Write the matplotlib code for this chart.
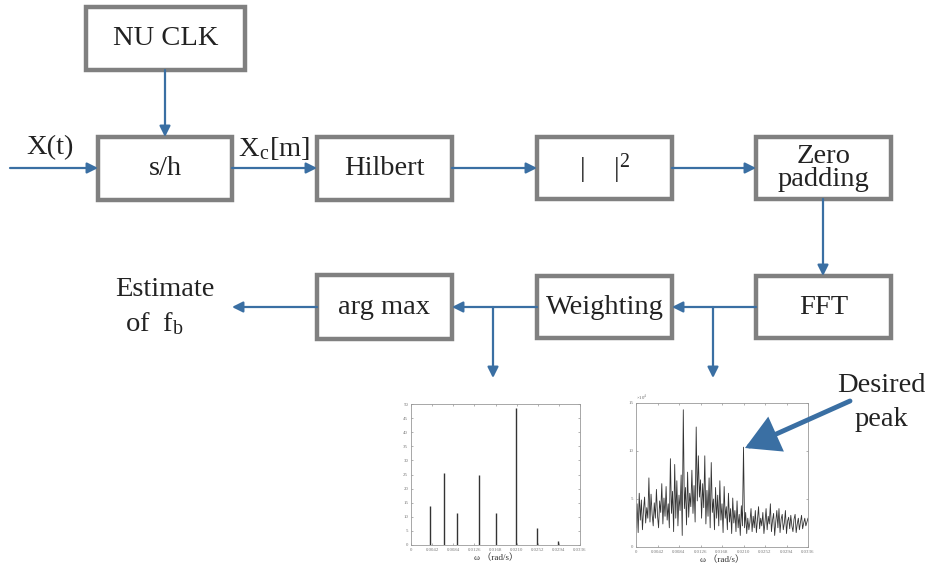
import numpy as np
import matplotlib.pyplot as plt
from matplotlib.patches import Rectangle

plt.rcParams['font.family'] = ['Liberation Serif', 'Noto Sans CJK SC', 'DejaVu Sans']
plt.rcParams['mathtext.fontset'] = 'stix'

# block diagram: label, (x0, y0, x1, y1) in pixel space
blocks = {
    "NU CLK": (86, 7, 245, 70),
    "s/h": (98, 137, 232, 200),
    "Hilbert": (317, 137, 452, 200),
    "|    |$^\\mathregular{2}$": (537, 137, 672, 199),
    "Zero\npadding": (756, 137, 891, 199),
    "FFT": (756, 276, 891, 338),
    "Weighting": (537, 276, 672, 338),
    "arg max": (317, 275, 452, 339),
}

# spectrum after weighting: peak positions (rad/s) and heights
peak_w = [0.00384, 0.00661, 0.00913, 0.01343, 0.0168, 0.0209, 0.02507, 0.0293]
peak_h = [13.9, 25.7, 11.3, 24.8, 11.3, 48.7, 6.2, 1.3]

# raw FFT magnitude (x1e4), 161 samples over 0..0.0336 rad/s
fft_mag = [
    2.0, 4.5, 1.5, 5.6, 2.8, 4.9, 1.8, 3.9, 5.2, 2.5,
    4.1, 3.0, 7.2, 2.6, 5.5, 3.4, 2.2, 4.6, 3.0, 6.0,
    3.3, 2.0, 4.8, 3.6, 6.6, 2.4, 5.1, 3.2, 6.3, 2.8,
    4.5, 2.0, 9.2, 3.5, 5.8, 1.6, 8.6, 3.0, 6.9, 2.2,
    5.4, 3.8, 7.5, 1.2, 14.3, 4.0, 6.2, 2.3, 7.8, 3.1,
    5.6, 4.2, 8.0, 3.5, 6.4, 2.6, 12.5, 4.8, 9.5, 5.2,
    7.0, 3.0, 6.6, 4.1, 9.5, 2.4, 5.9, 3.2, 7.2, 2.0,
    8.8, 3.6, 5.0, 1.8, 6.2, 3.0, 5.4, 2.2, 6.9, 2.8,
    4.5, 1.5, 6.3, 3.0, 4.2, 1.8, 5.6, 2.6, 4.0, 1.4,
    5.1, 2.5, 3.8, 1.6, 4.8, 2.0, 3.4, 1.2, 4.3, 2.2,
    10.4, 2.0, 3.6, 1.4, 3.0, 1.8, 2.6, 4.0, 1.6, 3.2,
    2.0, 3.8, 1.5, 2.8, 4.2, 1.9, 3.0, 2.2, 3.6, 1.4,
    2.6, 4.0, 1.8, 3.2, 2.4, 4.5, 1.6, 2.8, 3.5, 1.2,
    2.6, 3.8, 2.0, 4.0, 1.5, 2.9, 3.4, 1.8, 2.5, 3.8,
    1.4, 2.7, 3.1, 1.9, 3.3, 2.2, 1.6, 2.9, 3.4, 1.5,
    2.4, 3.0, 1.8, 2.6, 3.3, 1.9, 2.5, 3.0, 2.2, 2.6, 3.0,
]

w_ticks = [0, 0.0042, 0.0084, 0.0126, 0.0168, 0.0210, 0.0252, 0.0294, 0.0336]
w_labels = ["0", "0.0042", "0.0084", "0.0126", "0.0168", "0.0210", "0.0252", "0.0294", "0.0336"]

BLUE = "#3a6fa3"
GRAY = "#808080"
INK = "#222222"
FS = 20.5

fig = plt.figure(figsize=(9.25, 5.64), dpi=100)
ax = fig.add_axes([0, 0, 1, 1])
ax.set_xlim(0, 925)
ax.set_ylim(564, 0)
ax.axis("off")

for label, (x0, y0, x1, y1) in blocks.items():
    ax.add_patch(Rectangle((x0, y0), x1 - x0, y1 - y0, fill=False, ec=GRAY, lw=3.2))
    ls = 0.85 if "\n" in label else 1.2
    ax.text((x0 + x1) / 2, (y0 + y1) / 2, label, ha="center", va="center",
            fontsize=FS, color=INK, linespacing=ls)


def arrow(x0, y0, x1, y1, lw=1.6, ms=16):
    ax.annotate("", xy=(x1, y1), xytext=(x0, y0),
                arrowprops=dict(arrowstyle="-|>", color=BLUE, lw=lw,
                                mutation_scale=ms, shrinkA=0, shrinkB=0))


arrow(10, 168, 98, 168)
arrow(165, 70, 165, 137)
arrow(232, 168, 317, 168)
arrow(452, 168, 537, 168)
arrow(672, 168, 756, 168)
arrow(823, 199, 823, 276)
arrow(756, 307, 672, 307)
arrow(537, 307, 452, 307)
arrow(317, 307, 232, 307)
arrow(713, 307, 713, 378)
arrow(493, 307, 493, 378)

ax.text(50, 148, "X(t)", ha="center", va="center", fontsize=FS, color=INK)
ax.text(274, 148, "X$_\\mathregular{c}$[m]", ha="center", va="center", fontsize=FS, color=INK)
ax.text(165, 289, "Estimate", ha="center", va="center", fontsize=FS, color=INK)
ax.text(155, 324, "of  f$_\\mathregular{b}$", ha="center", va="center", fontsize=FS, color=INK)
ax.text(881, 385, "Desired", ha="center", va="center", fontsize=FS, color=INK)
ax.text(881, 419, "peak", ha="center", va="center", fontsize=FS, color=INK)

# inset 1: weighted spectrum
a1 = fig.add_axes([411 / 925, 19 / 564, 169 / 925, 141 / 564])
a1.vlines(peak_w, 0, peak_h, color="#333333", lw=1.0)
a1.set_xlim(0, 0.0336)
a1.set_ylim(0, 50)
a1.set_yticks(np.arange(0, 51, 5))

# inset 2: raw FFT
a2 = fig.add_axes([636 / 925, 17 / 564, 172 / 925, 144 / 564])
a2.plot(np.linspace(0, 0.0336, len(fft_mag)), fft_mag, color="#333333", lw=0.6)
a2.set_xlim(0, 0.0336)
a2.set_ylim(0, 15)
a2.set_yticks([0, 5, 10, 15])
a2.text(0.0, 1.0, "×10$^4$", transform=a2.transAxes, fontsize=3.5, color="#666666",
        ha="left", va="bottom")

for a in (a1, a2):
    a.set_xticks(w_ticks)
    a.set_xticklabels(w_labels)
    a.tick_params(labelsize=3.5, colors="#777777", length=1.5, width=0.4, direction="in", pad=2)
    a.tick_params(top=True, right=True)
    for s in a.spines.values():
        s.set_color("#999999")
        s.set_linewidth(0.6)
    a.set_xlabel("ω （rad/s）", fontsize=6.5, color="#333333", labelpad=1)

# overlay so the "desired peak" arrow sits above the inset
top = fig.add_axes([0, 0, 1, 1])
top.set_xlim(0, 925)
top.set_ylim(564, 0)
top.axis("off")
top.patch.set_alpha(0)
top.annotate("", xy=(745, 448), xytext=(850, 401),
             arrowprops=dict(arrowstyle="-|>,head_length=0.8,head_width=0.45",
                             color=BLUE, lw=3.5, joinstyle="miter",
                             mutation_scale=24, shrinkA=0, shrinkB=0))

fig.savefig("out.png", dpi=100)
